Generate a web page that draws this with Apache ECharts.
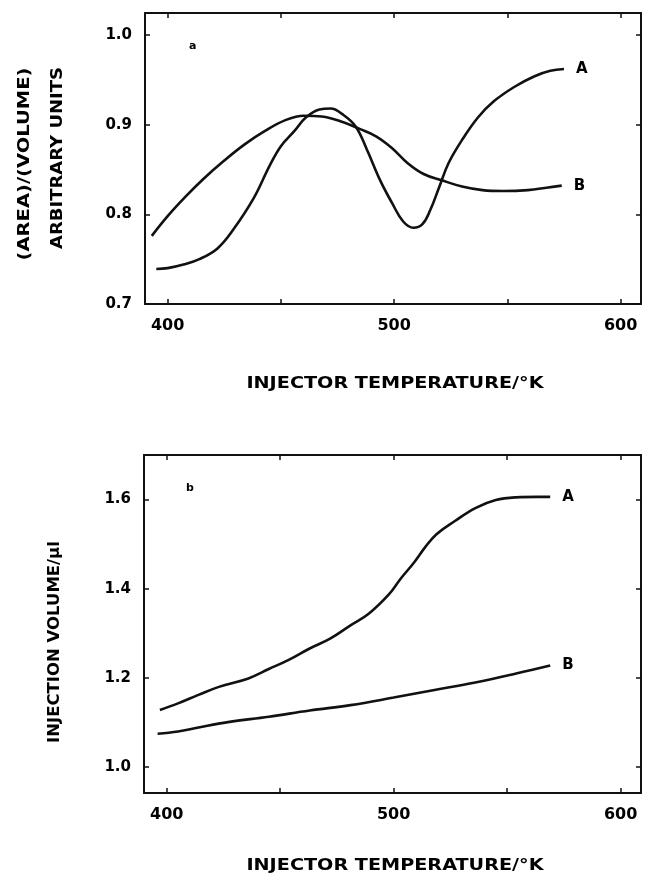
<!DOCTYPE html>
<html>
<head>
<meta charset="utf-8">
<script src="https://cdn.jsdelivr.net/npm/echarts@6/dist/echarts.min.js"></script>
<style>
  html, body { margin: 0; padding: 0; background: #fff; }
  #chart { width: 646px; height: 876px; }
</style>
</head>
<body>
<div id="chart"></div>
<script>
// panel a: (area)/(volume) vs injector temperature
var tempA1 = [395, 400, 407, 414, 422, 429, 438, 445, 450, 456, 461, 467, 472, 477, 483, 488, 494, 499, 504, 508.5, 512.5, 516, 520, 524, 530, 537, 544, 553, 562, 569, 575];
var valA1  = [0.739, 0.740, 0.744, 0.750, 0.762, 0.783, 0.818, 0.854, 0.876, 0.893, 0.908, 0.917, 0.918, 0.912, 0.898, 0.872, 0.837, 0.813, 0.792, 0.785, 0.789, 0.805, 0.831, 0.857, 0.883, 0.908, 0.926, 0.942, 0.954, 0.960, 0.962];
var tempB1 = [393, 400, 408, 416, 425, 434, 443, 452, 460, 468, 476, 485, 492, 499, 506, 513, 521, 530, 539, 548, 559, 568, 574];
var valB1  = [0.776, 0.798, 0.820, 0.840, 0.860, 0.878, 0.893, 0.905, 0.910, 0.909, 0.904, 0.895, 0.887, 0.874, 0.857, 0.845, 0.838, 0.831, 0.827, 0.826, 0.827, 0.830, 0.832];

// panel b: injection volume vs injector temperature
var tempA2 = [397, 405, 414, 423, 436, 445, 454, 463, 472, 481, 489, 498, 503, 509, 514, 519, 527, 536, 545, 554, 563, 569];
var valA2  = [1.128, 1.143, 1.162, 1.180, 1.199, 1.220, 1.241, 1.266, 1.288, 1.318, 1.344, 1.388, 1.422, 1.459, 1.494, 1.523, 1.552, 1.581, 1.599, 1.605, 1.606, 1.606];
var tempB2 = [396, 405, 414, 427, 445, 463, 481, 500, 518, 536, 554, 569];
var valB2  = [1.075, 1.080, 1.089, 1.101, 1.113, 1.127, 1.139, 1.156, 1.173, 1.190, 1.210, 1.228];

var xTicks = [400, 450, 500, 550, 600];
var xLabels = [400, 500, 600];
var yTicks1 = [0.7, 0.8, 0.9, 1.0];
var yTicks2 = [1.0, 1.2, 1.4, 1.6];

var xName = 'INJECTOR TEMPERATURE/°K';
var yName1 = ['(AREA)/(VOLUME)', 'ARBITRARY UNITS'];
var yName2 = 'INJECTION VOLUME/μl';

function zip(xs, ys) {
  return xs.map(function (x, i) { return [x, ys[i]]; });
}

var font = 'DejaVu Sans';
var lineCol = '#111';

function xAx(grid, pos) {
  var main = pos === 'bottom';
  return {
    type: 'value', gridIndex: grid, position: pos, min: 390, max: 609,
    axisLine: { show: true, onZero: false, lineStyle: { color: lineCol, width: 2 } },
    axisTick: { show: true, inside: true, length: 5, customValues: xTicks, lineStyle: { color: lineCol, width: 1.5 } },
    axisLabel: { show: main, customValues: xLabels, margin: 14, color: '#000', fontFamily: font, fontWeight: 'bold', fontSize: 16 },
    splitLine: { show: false }
  };
}

function yAx(grid, pos, min, max, ticks) {
  var main = pos === 'left';
  return {
    type: 'value', gridIndex: grid, position: pos, min: min, max: max,
    axisLine: { show: true, onZero: false, lineStyle: { color: lineCol, width: 2 } },
    axisTick: { show: true, inside: true, length: 5, customValues: ticks, lineStyle: { color: lineCol, width: 1.5 } },
    axisLabel: {
      show: main, customValues: ticks, margin: 13, color: '#000', fontFamily: font, fontWeight: 'bold', fontSize: 15,
      formatter: function (v) { return v.toFixed(1); }
    },
    splitLine: { show: false }
  };
}

function curve(name, xi, yi, data, label) {
  return {
    name: name, type: 'line', xAxisIndex: xi, yAxisIndex: yi, data: data,
    smooth: 0.4, symbol: 'none', lineStyle: { color: lineCol, width: 2.6 },
    endLabel: { show: true, formatter: label, distance: 12, color: '#000', fontFamily: font, fontWeight: 'bold', fontSize: 15 },
    silent: true, animation: false
  };
}

// stretched bold text, to mimic the wide letter spacing of the original lettering
function title(text, x, y, rot, sx) {
  return {
    type: 'text', x: x, y: y, rotation: rot, scaleX: sx,
    style: { text: text, font: 'bold 15px DejaVu Sans', fill: '#000', align: 'center', verticalAlign: 'middle' }
  };
}

var chart = echarts.init(document.getElementById('chart'), null, { renderer: 'canvas' });
chart.setOption({
  backgroundColor: '#fff',
  animation: false,
  grid: [
    { left: 145, top: 13, width: 496, height: 291 },
    { left: 144, top: 455, width: 497, height: 338 }
  ],
  xAxis: [xAx(0, 'bottom'), xAx(0, 'top'), xAx(1, 'bottom'), xAx(1, 'top')],
  yAxis: [
    yAx(0, 'left', 0.7, 1.0245, yTicks1), yAx(0, 'right', 0.7, 1.0245, yTicks1),
    yAx(1, 'left', 0.942, 1.7, yTicks2), yAx(1, 'right', 0.942, 1.7, yTicks2)
  ],
  graphic: [
    { type: 'text', left: 189, top: 41, style: { text: 'a', font: 'bold 11px DejaVu Sans', fill: '#000' } },
    { type: 'text', left: 186, top: 483, style: { text: 'b', font: 'bold 11px DejaVu Sans', fill: '#000' } },
    title(yName1[0], 25, 164, Math.PI / 2, 1.3),
    title(yName1[1], 58, 158, Math.PI / 2, 1.2),
    title(yName2, 55, 642, Math.PI / 2, 1.1),
    title(xName, 395, 384, 0, 1.28),
    title(xName, 395, 866, 0, 1.28)
  ],
  series: [
    curve('A', 0, 0, zip(tempA1, valA1), 'A'),
    curve('B', 0, 0, zip(tempB1, valB1), 'B'),
    curve('A', 2, 2, zip(tempA2, valA2), 'A'),
    curve('B', 2, 2, zip(tempB2, valB2), 'B')
  ]
});
</script>
</body>
</html>
